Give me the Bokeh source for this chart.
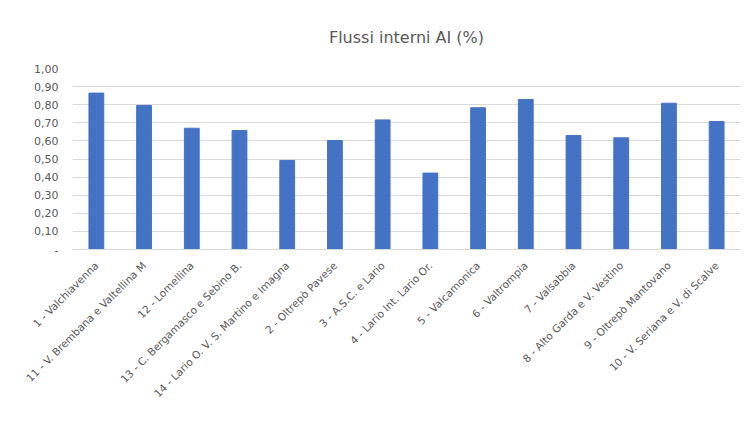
from bokeh.plotting import figure
from bokeh.models import FixedTicker, Range1d
from bokeh.embed import file_html
from bokeh.resources import INLINE
import math

categories = [
    "1 - Valchiavenna",
    "11 - V. Brembana e Valtellina M",
    "12 - Lomellina",
    "13 - C. Bergamasco e Sebino B.",
    "14 - Lario O. V. S. Martino e Imagna",
    "2 - Oltrepò Pavese",
    "3 - A.S.C. e Lario",
    "4 - Lario Int. Lario Or.",
    "5 - Valcamonica",
    "6 - Valtrompia",
    "7 - Valsabbia",
    "8 - Alto Garda e V. Vestino",
    "9 - Oltrepò Mantovano",
    "10 - V. Seriana e V. di Scalve",
]
values = [0.864, 0.796, 0.670, 0.657, 0.492, 0.602, 0.716, 0.422, 0.783, 0.829, 0.630, 0.617, 0.808, 0.707]
y_ticks = [0.0, 0.1, 0.2, 0.3, 0.4, 0.5, 0.6, 0.7, 0.8, 0.9, 1.0]
y_tick_labels = ["-", "0,10", "0,20", "0,30", "0,40", "0,50", "0,60", "0,70", "0,80", "0,90", "1,00"]

p = figure(width=749, height=429, x_range=categories, y_range=Range1d(0, 1.0),
           output_backend="svg", toolbar_location=None,
           title="Flussi interni AI (%)",
           min_border_left=72, min_border_right=9, min_border_top=68, min_border_bottom=180)
p.vbar(x=categories, top=values, width=0.31, color="#4472C4")

p.title.align = "center"
p.title.text_font = "DejaVu Sans"
p.title.text_font_size = "16px"
p.title.text_font_style = "normal"
p.title.text_color = "#595959"
p.title.standoff = 44

p.outline_line_color = None
p.xgrid.grid_line_color = None
p.ygrid.grid_line_color = "#d9d9d9"
p.yaxis.ticker = FixedTicker(ticks=y_ticks)
p.yaxis.major_label_overrides = {t: l for t, l in zip(y_ticks, y_tick_labels)}
p.yaxis.axis_line_color = None
p.yaxis.major_tick_line_color = None
p.yaxis.minor_tick_line_color = None
p.yaxis.major_label_standoff = 8
p.yaxis.major_label_text_font_size = "11px"
p.yaxis.major_label_text_color = "#595959"
p.yaxis.major_label_text_font = "DejaVu Sans"

p.xaxis.axis_line_color = "#d9d9d9"
p.xaxis.major_tick_line_color = None
p.xaxis.major_tick_in = 0
p.xaxis.major_tick_out = 0
p.xaxis.major_label_standoff = 14
p.xaxis.major_label_orientation = math.pi / 4
p.xaxis.major_label_text_font_size = "10.5px"
p.xaxis.major_label_text_color = "#595959"
p.xaxis.major_label_text_font = "DejaVu Sans"
p.x_range.range_padding = 0

open("out.html", "w").write(file_html(p, INLINE))
